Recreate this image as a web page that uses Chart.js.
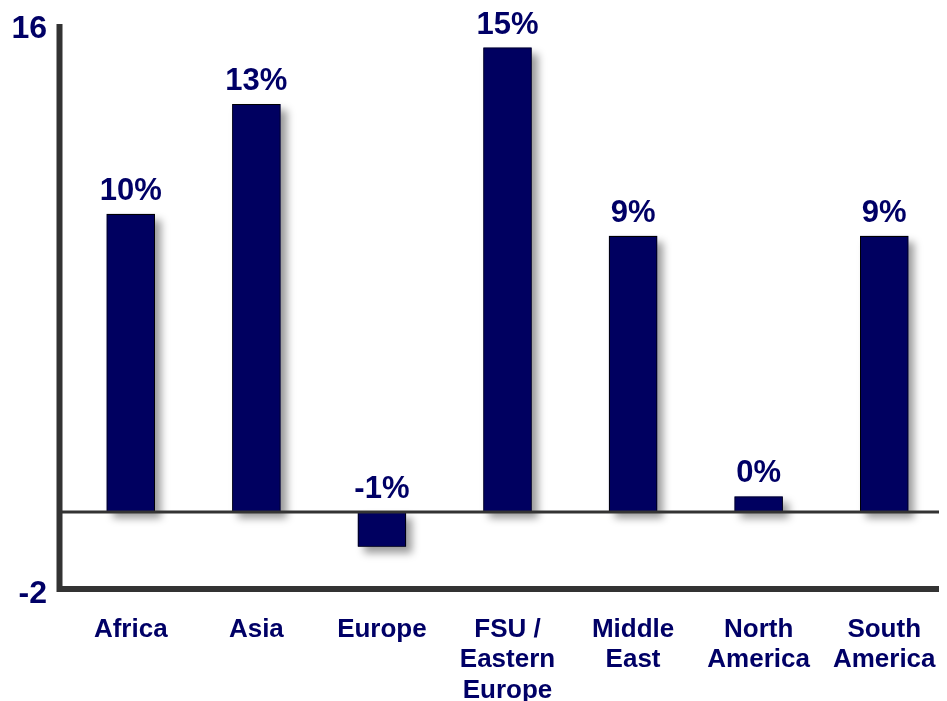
<!DOCTYPE html>
<html>
<head>
<meta charset="utf-8">
<script src="https://cdn.jsdelivr.net/npm/chart.js@4.4.1/dist/chart.umd.min.js"></script>
<style>
  html, body { margin: 0; padding: 0; background: #fff; }
</style>
</head>
<body>
<canvas id="chart" width="947" height="701"></canvas>
<script>
const regions = ["Africa", "Asia", "Europe", ["FSU /", "Eastern", "Europe"], ["Middle", "East"], ["North", "America"], ["South", "America"]];
const growth = [9.5, 13.0, -1.1, 14.8, 8.8, 0.5, 8.8];
const growthLabels = ["10%", "13%", "-1%", "15%", "9%", "0%", "9%"];
const yRange = [-2.45, 15.55];
const yTickLabels = ["-2", "16"];

const NAVY = "#000060";
const TEXT = "#000066";
const FONT = "'Liberation Sans', Arial, sans-serif";

// soft shadow behind the bars (drawn first, bars go on top)
const barShadow = {
    id: "barShadow",
    beforeDatasetsDraw(chart) {
        const ctx = chart.ctx;
        const meta = chart.getDatasetMeta(0);
        ctx.save();
        ctx.shadowColor = "rgba(0,0,0,0.4)";
        ctx.shadowBlur = 8;
        ctx.shadowOffsetX = 6;
        ctx.shadowOffsetY = 6;
        ctx.fillStyle = NAVY;
        meta.data.forEach(bar => {
            const top = Math.min(bar.y, bar.base);
            const h = Math.abs(bar.base - bar.y);
            ctx.fillRect(bar.x - bar.width / 2, top, bar.width, h);
        });
        ctx.restore();
    }
};

// axis frame and zero line
const axisLines = {
    id: "axisLines",
    afterDatasetsDraw(chart) {
        const { ctx, chartArea: a, scales: { y } } = chart;
        const left = a.left - 8.5;
        const right = a.right - 8;
        const zero = y.getPixelForValue(0);
        ctx.save();
        ctx.strokeStyle = "#333333";
        ctx.lineWidth = 3;
        ctx.beginPath();
        ctx.moveTo(left, zero);
        ctx.lineTo(right, zero);
        ctx.stroke();
        ctx.lineWidth = 6;
        ctx.beginPath();
        ctx.moveTo(left, y.top);
        ctx.lineTo(left, y.bottom + 3);
        ctx.moveTo(left - 3, y.bottom);
        ctx.lineTo(right, y.bottom);
        ctx.stroke();
        ctx.restore();
    }
};

// percent labels above each bar
const valueLabels = {
    id: "valueLabels",
    afterDraw(chart) {
        const { ctx, scales: { y } } = chart;
        const meta = chart.getDatasetMeta(0);
        ctx.save();
        ctx.fillStyle = TEXT;
        ctx.font = "bold 31px " + FONT;
        ctx.textAlign = "center";
        ctx.textBaseline = "alphabetic";
        meta.data.forEach((bar, i) => {
            const top = Math.min(bar.y, y.getPixelForValue(0));
            ctx.fillText(growthLabels[i], bar.x, top - 14);
        });
        ctx.restore();
    }
};

new Chart(document.getElementById("chart"), {
    type: "bar",
    data: {
        labels: regions,
        datasets: [{
            data: growth,
            backgroundColor: NAVY,
            borderColor: "#000000",
            borderWidth: 1,
            borderSkipped: false,
            categoryPercentage: 1,
            barPercentage: 0.385
        }]
    },
    options: {
        responsive: false,
        animation: false,
        layout: { padding: { top: 24, right: 0, bottom: 0, left: 0 } },
        plugins: { legend: { display: false }, tooltip: { enabled: false } },
        scales: {
            x: {
                grid: { display: false, drawTicks: false },
                border: { display: false },
                ticks: {
                    color: TEXT,
                    font: { family: FONT, size: 26, weight: "bold", lineHeight: 1.18 },
                    padding: 25,
                    maxRotation: 0,
                    autoSkip: false
                },
                afterFit: s => {
                    s.height = 112;
                    s.paddingLeft = 0;
                    s.paddingRight = 0;
                }
            },
            y: {
                min: yRange[0],
                max: yRange[1],
                grid: { display: false, drawTicks: false },
                border: { display: false },
                afterBuildTicks: s => { s.ticks = yRange.map(v => ({ value: v })); },
                ticks: {
                    color: TEXT,
                    font: { family: FONT, size: 32, weight: "bold" },
                    padding: 21,
                    labelOffset: 5,
                    callback: v => v > 0 ? yTickLabels[1] : yTickLabels[0]
                },
                afterFit: s => {
                    s.width = 68;
                    s.paddingTop = 0;
                    s.paddingBottom = 0;
                }
            }
        }
    },
    plugins: [barShadow, axisLines, valueLabels]
});
</script>
</body>
</html>
